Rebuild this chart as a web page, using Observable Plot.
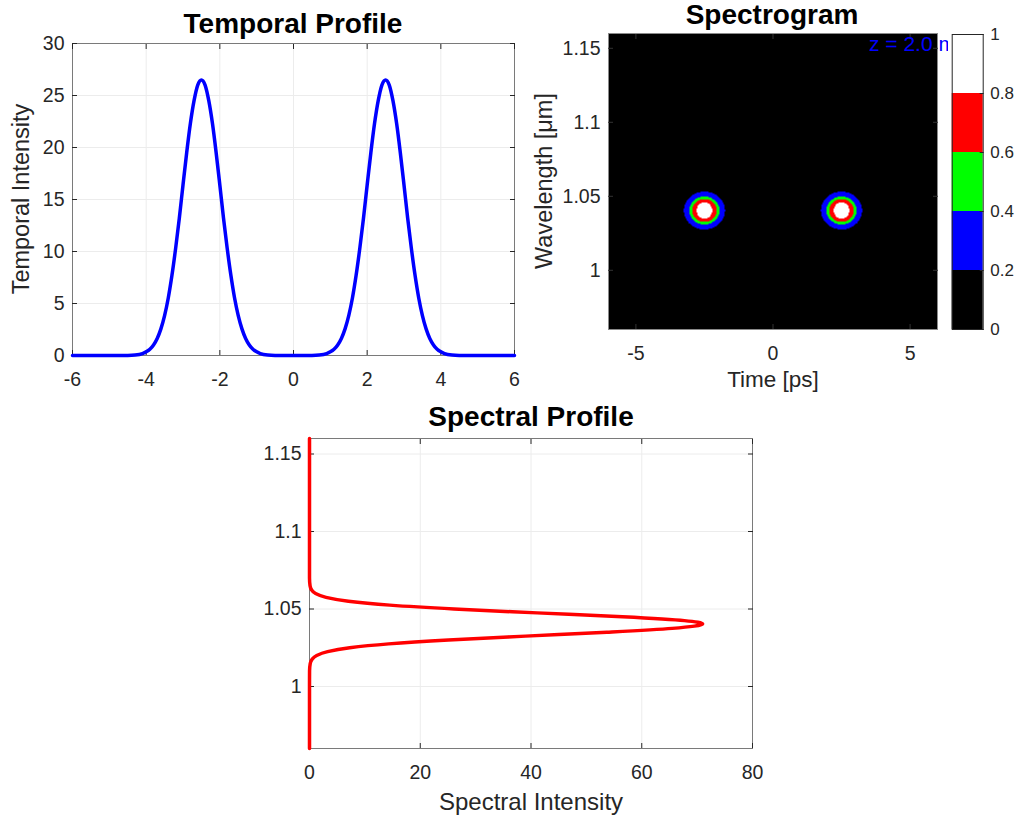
<!DOCTYPE html>
<html>
<head>
<meta charset="utf-8">
<script src="https://cdn.jsdelivr.net/npm/d3@7"></script>
<script src="https://cdn.jsdelivr.net/npm/@observablehq/plot@0.6"></script>
<style>
  body { margin: 0; background: #fff; font-family: "Liberation Sans", Arial, sans-serif; }
  #fig { position: relative; width: 1016px; height: 818px; overflow: hidden; background: #fff; }
  #fig > svg, #fig > div { position: absolute; }
  .title { font-weight: bold; font-size: 28px; line-height: 1; white-space: nowrap; color: #000; transform: translateX(-50%); }
  .xlabel { font-size: 23px; line-height: 1; white-space: nowrap; color: #262626; transform: translateX(-50%); }
  .ylabel { font-size: 23.5px; line-height: 1; white-space: nowrap; color: #262626; transform: translate(-50%, -50%) rotate(-90deg); }
</style>
</head>
<body>
<div id="fig"></div>
<script>
// ---------- Temporal profile ----------
const temporalTime = [-6,-5,-4.5,-4.3,-4.1,-4,-3.9,-3.8,-3.7,-3.6,-3.5,-3.4,-3.3,-3.2,-3.1,-3,-2.9,-2.8,-2.7,-2.6,-2.5,-2.4,-2.3,-2.2,-2.1,-2,-1.9,-1.8,-1.7,-1.6,-1.5,-1.4,-1.3,-1.2,-1.1,-1,-0.9,-0.7,-0.5,0,0.5,0.7,0.9,1,1.1,1.2,1.3,1.4,1.5,1.6,1.7,1.8,1.9,2,2.1,2.2,2.3,2.4,2.5,2.6,2.7,2.8,2.9,3,3.1,3.2,3.3,3.4,3.5,3.6,3.7,3.8,3.9,4,4.1,4.3,4.5,5,6];
const temporalIntensity = [0,0,0.01,0.05,0.19,0.35,0.6,1.02,1.64,2.56,3.83,5.53,7.71,10.3,13.2,16.4,19.5,22.3,24.5,26.0,26.5,26.0,24.5,22.3,19.5,16.4,13.2,10.3,7.71,5.53,3.83,2.56,1.64,1.02,0.6,0.35,0.19,0.05,0.01,0,0.01,0.05,0.19,0.35,0.6,1.02,1.64,2.56,3.83,5.53,7.71,10.3,13.2,16.4,19.5,22.3,24.5,26.0,26.5,26.0,24.5,22.3,19.5,16.4,13.2,10.3,7.71,5.53,3.83,2.56,1.64,1.02,0.6,0.35,0.19,0.05,0.01,0,0];
const temporalXTicks = [-6,-4,-2,0,2,4,6];
const temporalYTicks = [0,5,10,15,20,25,30];

// ---------- Spectral profile ----------
const spectralWavelength = [0.96,1.0,1.01,1.015,1.0175,1.02,1.0225,1.025,1.0275,1.03,1.0325,1.035,1.0375,1.0404,1.0425,1.045,1.0475,1.05,1.0525,1.055,1.0575,1.06,1.0625,1.065,1.07,1.1,1.16];
const spectralIntensity = [0,0,0.01,0.14,0.46,1.3,3.27,7.26,14.3,25.1,39.0,53.7,65.5,71.0,67.7,56.5,41.1,26.1,14.5,7.03,2.98,1.1,0.35,0.1,0,0,0];
const spectralXTicks = [0,20,40,60,80];
const wavelengthTicks = [1,1.05,1.1,1.15];

// ---------- Spectrogram (contour bands) ----------
const pulseTime = [-2.5, 2.5];
const pulseWavelength = [1.0404, 1.0404];
const contourLevels = [0.2, 0.4, 0.6, 0.8];
const contourHalfWidthTime = [0.75, 0.55, 0.445, 0.285];
const contourHalfWidthWavelength = [0.0128, 0.0094, 0.0077, 0.0055];
const spectrogramXTicks = [-5, 0, 5];
const annotation = [{t: 3.5, w: 1.1525, label: "z = 2.0 m"}];

// ---------- Colorbar ----------
const colorbarEdges = [0, 0.2, 0.4, 0.6, 0.8, 1];
const colorbarColors = ["#000000", "#0000ff", "#00ff00", "#ff0000", "#ffffff"];
const colorbarTicks = [0, 0.2, 0.4, 0.6, 0.8, 1];

// ---------- build tables ----------
const temporal = temporalTime.map((t, i) => ({t, i: temporalIntensity[i]}));
const spectral = spectralWavelength.map((w, i) => ({w, s: spectralIntensity[i]}));
const bands = colorbarColors.map((c, i) => ({lo: colorbarEdges[i], hi: colorbarEdges[i + 1], color: c}));

function spectrogramLevel(x, y) {
  let v = 0;
  for (let p = 0; p < pulseTime.length; p++) {
    for (let k = 0; k < contourLevels.length; k++) {
      const dx = (x - pulseTime[p]) / contourHalfWidthTime[k];
      const dy = (y - pulseWavelength[p]) / contourHalfWidthWavelength[k];
      if (dx * dx + dy * dy <= 1 && contourLevels[k] > v) v = contourLevels[k];
    }
  }
  return v;
}

const fmt = d => String(+(+d).toFixed(3));
const blank = () => "";
const FONT = "'Liberation Sans', Arial, sans-serif";
const TICKFS = 19.5;
const GRID = "#ececec";
const AXC = "#262626";
const FRAME = "#7a7a7a";
const baseStyle = {background: "transparent", fontFamily: FONT, fontSize: TICKFS + "px", color: AXC, overflow: "visible"};

function boxAxes(xt, yt, opts = {}) {
  const tc = opts.tickColor || AXC;
  return [
    Plot.axisX(xt, {anchor: "bottom", tickSize: -5, tickPadding: 22, tickFormat: fmt, fontSize: TICKFS, color: AXC, stroke: tc, label: null}),
    Plot.axisX(xt, {anchor: "top", tickSize: -5, tickFormat: blank, stroke: tc, label: null}),
    Plot.axisY(yt, {anchor: "left", tickSize: -5, tickPadding: 13, tickFormat: fmt, fontSize: TICKFS, color: AXC, stroke: tc, label: null}),
    Plot.axisY(yt, {anchor: "right", tickSize: -5, tickFormat: blank, stroke: tc, label: null})
  ];
}

const fig = document.getElementById("fig");

// Temporal profile
const p1 = Plot.plot({
  width: 530, height: 400,
  marginLeft: 72, marginRight: 16, marginTop: 43, marginBottom: 45,
  style: baseStyle,
  x: {domain: [-6, 6], label: null},
  y: {domain: [0, 30], label: null},
  marks: [
    Plot.gridX(temporalXTicks, {stroke: GRID, strokeOpacity: 1}),
    Plot.gridY(temporalYTicks, {stroke: GRID, strokeOpacity: 1}),
    Plot.frame({stroke: FRAME}),
    ...boxAxes(temporalXTicks, temporalYTicks),
    Plot.line(temporal, {x: "t", y: "i", stroke: "#0000ff", strokeWidth: 3.5, curve: "monotone-x"})
  ]
});
p1.style.left = "0px"; p1.style.top = "0px";
fig.appendChild(p1);

// Spectrogram
const p2 = Plot.plot({
  width: 486, height: 400,
  marginLeft: 78, marginRight: 79, marginTop: 33, marginBottom: 71,
  style: baseStyle,
  x: {domain: [-6, 6], label: null},
  y: {domain: [0.96, 1.16], label: null},
  color: {type: "threshold", domain: contourLevels, range: colorbarColors},
  marks: [
    Plot.raster({x1: -6, x2: 6, y1: 0.96, y2: 1.16, fill: spectrogramLevel, pixelSize: 1}),
    Plot.frame({stroke: "#8a8a8a"}),
    ...boxAxes(spectrogramXTicks, wavelengthTicks, {tickColor: "#333"}),
    Plot.text(annotation, {x: "t", y: "w", text: "label", fill: "#0000ff", fontSize: 21, textAnchor: "start"})
  ]
});
p2.style.left = "530px"; p2.style.top = "0px";
fig.appendChild(p2);

// Colorbar (its white panel hides the end of the annotation, as in the original)
const p3 = Plot.plot({
  width: 68, height: 400,
  marginLeft: 3.7, marginRight: 33.3, marginTop: 34, marginBottom: 71,
  style: {...baseStyle, background: "#ffffff"},
  y: {domain: [0, 1], label: null},
  color: {type: "identity"},
  marks: [
    Plot.rect(bands, {y1: "lo", y2: "hi", fill: "color"}),
    Plot.frame({stroke: AXC}),
    Plot.axisY(colorbarTicks, {anchor: "right", tickSize: -4, tickPadding: 11, tickFormat: fmt, fontSize: 17, color: AXC, label: null})
  ]
});
p3.style.left = "948px"; p3.style.top = "0px";
fig.appendChild(p3);

// Spectral profile
const p4 = Plot.plot({
  width: 530, height: 418,
  marginLeft: 79, marginRight: 8, marginTop: 38, marginBottom: 70,
  style: baseStyle,
  x: {domain: [0, 80], label: null},
  y: {domain: [0.96, 1.16], label: null},
  marks: [
    Plot.gridX(spectralXTicks, {stroke: GRID, strokeOpacity: 1}),
    Plot.gridY(wavelengthTicks, {stroke: GRID, strokeOpacity: 1}),
    Plot.frame({stroke: FRAME}),
    ...boxAxes(spectralXTicks, wavelengthTicks),
    Plot.line(spectral, {x: "s", y: "w", stroke: "#ff0000", strokeWidth: 3.5, curve: "monotone-y"})
  ]
});
p4.style.left = "230px"; p4.style.top = "400px";
fig.appendChild(p4);

// Titles and axis labels
function addText(cls, text, left, top, fs) {
  const d = document.createElement("div");
  d.className = cls;
  d.textContent = text;
  d.style.left = left + "px";
  d.style.top = top + "px";
  if (fs) d.style.fontSize = fs + "px";
  fig.appendChild(d);
}
addText("title", "Temporal Profile", 293, 9.5);
addText("title", "Spectrogram", 772, 0.5);
addText("title", "Spectral Profile", 531, 402.5);
addText("xlabel", "Time [ps]", 773, 368.5, 22.5);
addText("xlabel", "Spectral Intensity", 531, 790, 24);
addText("ylabel", "Temporal Intensity", 22, 199);
addText("ylabel", "Wavelength [μm]", 545, 181);
</script>
</body>
</html>
